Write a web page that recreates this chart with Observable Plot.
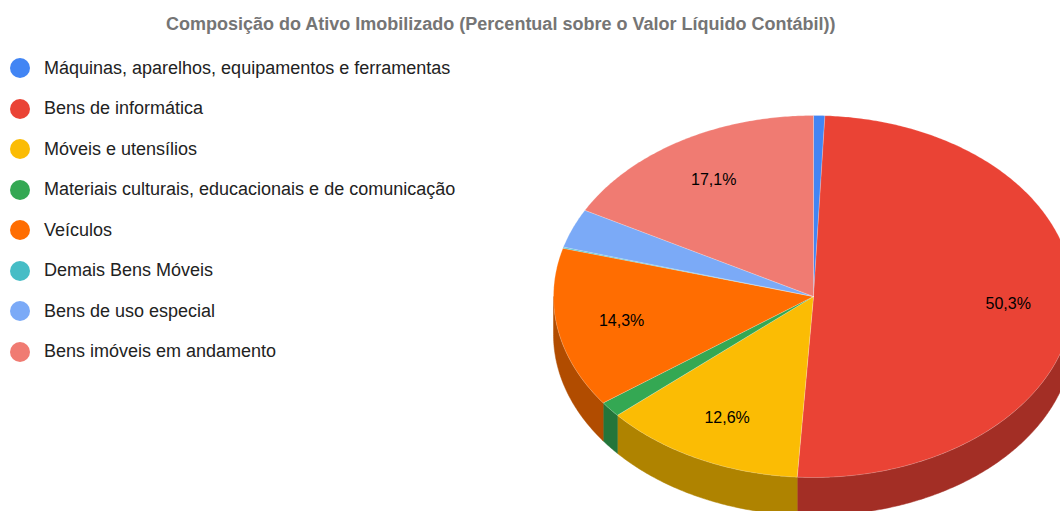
<!DOCTYPE html>
<html lang="pt">
<head>
<meta charset="utf-8">
<script src="https://cdn.jsdelivr.net/npm/d3@7"></script>
<script src="https://cdn.jsdelivr.net/npm/@observablehq/plot@0.6"></script>
<style>
html,body{margin:0;padding:0;background:#fff;overflow:hidden;width:1060px;height:511px;font-family:"Liberation Sans",Arial,sans-serif;}
#wrap{position:relative;width:1060px;height:511px;overflow:hidden;}
#title{height:50px;box-sizing:border-box;padding-top:13px;white-space:nowrap;padding-left:166px;font-size:18px;line-height:22px;font-weight:bold;color:#757575;}
#legend{position:absolute;left:10px;top:48px;}
.row{display:flex;align-items:center;height:40.5px;font-size:18px;color:#222;white-space:nowrap;}
.sw{width:20px;height:20px;border-radius:50%;margin-right:14px;flex:none;}
svg{display:block;}
</style>
</head>
<body>
<div id="wrap">
<div id="title">Composição do Ativo Imobilizado (Percentual sobre o Valor Líquido Contábil))</div>
<div id="legend"></div>
<div id="chart"></div>
</div>
<script>
const titleText = "Composição do Ativo Imobilizado (Percentual sobre o Valor Líquido Contábil))";
const categories = ["Máquinas, aparelhos, equipamentos e ferramentas","Bens de informática","Móveis e utensílios","Materiais culturais, educacionais e de comunicação","Veículos","Demais Bens Móveis","Bens de uso especial","Bens imóveis em andamento"];
const values = [0.7,50.3,12.6,1.4,14.3,0.1,3.5,17.1];
const labelled = ["", "50,3%", "12,6%", "", "14,3%", "", "", "17,1%"];
const colors = ["#4285f4","#ea4335","#fbbc04","#34a853","#ff6d01","#46bdc6","#7baaf7","#f07b72"];
const wallColors = ["#2e5daa","#a32e25","#af8300","#24753a","#b14c00","#318489","#5676ac","#a85650"];

const depth = 38 / 181;         // wall height, in y-units of the pie
const labelRadius = 0.75;
const W = 1060, H = 461;

const arcs = d3.pie().sort(null).startAngle(0).endAngle(2 * Math.PI)(values);
const px = (a, r = 1) => r * Math.sin(a);
const py = (a, r = 1) => r * Math.cos(a);
function arcPts(a0, a1) {
  const n = Math.max(2, Math.ceil((a1 - a0) / 0.01));
  return d3.range(n + 1).map(i => a0 + (a1 - a0) * i / n);
}
const topPolys = arcs.map(s => {
  const pts = arcPts(s.startAngle, s.endAngle).map(a => ({x: px(a), y: py(a)}));
  return [{x: 0, y: 0}, ...pts, {x: 0, y: 0}];
});
const wallPolys = arcs.map(s => {
  const a0 = Math.max(s.startAngle, Math.PI / 2), a1 = Math.min(s.endAngle, 3 * Math.PI / 2);
  if (a1 <= a0) return null;
  const as = arcPts(a0, a1);
  const upper = as.map(a => ({x: px(a), y: py(a)}));
  const lower = as.slice().reverse().map(a => ({x: px(a), y: py(a) - depth}));
  return [...upper, ...lower, upper[0]];
});
const labels = arcs.map((s, i) => {
  const m = (s.startAngle + s.endAngle) / 2;
  return {x: px(m, labelRadius), y: py(m, labelRadius), t: labelled[i]};
}).filter(d => d.t);

const marks = [];
wallPolys.forEach((p, i) => { if (p) marks.push(Plot.line(p, {x: "x", y: "y", fill: wallColors[i], stroke: wallColors[i], strokeWidth: 0.5})); });
topPolys.forEach((p, i) => marks.push(Plot.line(p, {x: "x", y: "y", fill: colors[i], stroke: "#fff", strokeOpacity: 0.35, strokeWidth: 0.6})));
marks.push(Plot.text(labels, {x: "x", y: "y", text: "t", fontSize: 16, fill: "#000", fontFamily: "Liberation Sans, Arial, sans-serif"}));

const chart = Plot.plot({
  width: W, height: H,
  margin: 0,
  x: {domain: [-1, 1], range: [553, 1073], axis: null},
  y: {domain: [-1, 1], range: [427, 65], axis: null},
  marks
});
document.getElementById("chart").append(chart);

const lg = document.getElementById("legend");
categories.forEach((c, i) => {
  const r = document.createElement("div"); r.className = "row";
  const s = document.createElement("span"); s.className = "sw"; s.style.background = colors[i];
  const t = document.createElement("span"); t.textContent = c;
  r.append(s, t); lg.append(r);
});
</script>
</body>
</html>
